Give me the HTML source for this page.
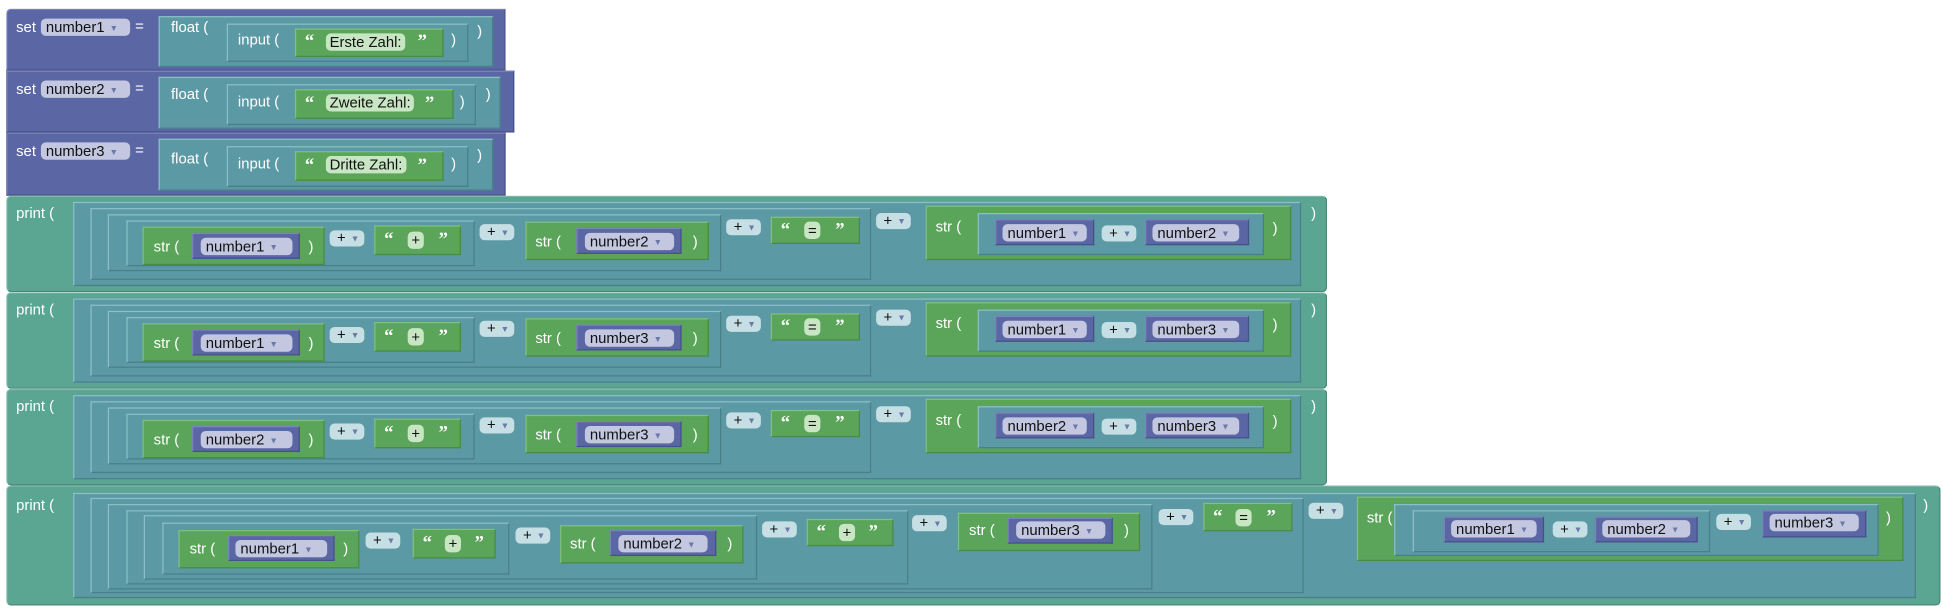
<!DOCTYPE html>
<html><head><meta charset="utf-8"><style>
html,body{margin:0;padding:0;background:#fff;width:1943px;height:613px;overflow:hidden}
#w{position:absolute;left:0;top:0;width:1568px;height:495px;transform:scale(1.2392,1.2384);transform-origin:0 0;font-family:"Liberation Sans",sans-serif}
.b{position:absolute;box-sizing:border-box;border:1px solid}
.set{background:#5b67a5;border-color:#7c86b8 #46508a #46508a #7c86b8}
.pr{background:#5ba593;border-color:#7fbaa9 #4a8676 #4a8676 #7fbaa9;border-radius:4px}
.tl{background:#5b99a5;border-color:#8cbfc8 #4a7f88 #4a7f88 #8cbfc8}
.gr{background:#5ba55b;border-color:#80c080 #478a47 #478a47 #80c080}
.vr{background:#5b67a5;border-color:#7c86b8 #46508a #46508a #7c86b8}
.row{position:absolute;left:0}
.t{position:absolute;color:#fff;font-size:12px;line-height:14px;white-space:nowrap}
.p{position:absolute;box-sizing:border-box;border-radius:4px;color:#111;font-size:12px;line-height:14px;height:14px;padding-left:4px;white-space:nowrap}
.vp{background:#c3c8e0}
.dp{background:#c6dfe4;width:28px;height:13px;line-height:13px;padding-left:6px}
.tp{background:#c8e6c3;padding:0 3px}
.ar{color:#6d7aa8;font-size:7px;margin-left:4px;vertical-align:1px}
.q{position:absolute;color:#fff;font-size:15px;font-weight:bold;line-height:14px;font-family:"Liberation Serif",serif}
</style></head><body><div id="w">

<div class="b set" style="left:5px;top:7px;width:403px;height:50px;border-radius:4px 0 0 0"></div>
<div class="t" style="left:13px;top:15px">set</div>
<div class="p vp" style="left:33px;top:15px;width:72px">number1<span class="ar">▼</span></div>
<div class="t" style="left:109px;top:14px">=</div>
<div class="b tl" style="left:128px;top:13px;width:270px;height:41px"></div>
<div class="t" style="left:138px;top:15px">float (</div>
<div class="b tl" style="left:183px;top:19px;width:195px;height:31px"></div>
<div class="t" style="left:192px;top:25px">input (</div>
<div class="b gr" style="left:238px;top:23px;width:120px;height:23px"></div>
<div class="q" style="left:246px;top:27px">“</div>
<div class="p tp" style="left:263px;top:27px">Erste Zahl:</div>
<div class="q" style="left:337px;top:27px">”</div>
<div class="t" style="left:364px;top:25px">)</div>
<div class="t" style="left:385px;top:18px">)</div>

<div class="b set" style="left:5px;top:57px;width:410px;height:50px"></div>
<div class="t" style="left:13px;top:65px">set</div>
<div class="p vp" style="left:33px;top:65px;width:72px">number2<span class="ar">▼</span></div>
<div class="t" style="left:109px;top:64px">=</div>
<div class="b tl" style="left:128px;top:62px;width:276px;height:42px"></div>
<div class="t" style="left:138px;top:69px">float (</div>
<div class="b tl" style="left:183px;top:68px;width:201px;height:33px"></div>
<div class="t" style="left:192px;top:75px">input (</div>
<div class="b gr" style="left:238px;top:72px;width:128px;height:24px"></div>
<div class="q" style="left:246px;top:77px">“</div>
<div class="p tp" style="left:263px;top:76px">Zweite Zahl:</div>
<div class="q" style="left:343px;top:77px">”</div>
<div class="t" style="left:371px;top:75px">)</div>
<div class="t" style="left:392px;top:69px">)</div>

<div class="b set" style="left:5px;top:107px;width:403px;height:51px"></div>
<div class="t" style="left:13px;top:115px">set</div>
<div class="p vp" style="left:33px;top:115px;width:72px">number3<span class="ar">▼</span></div>
<div class="t" style="left:109px;top:114px">=</div>
<div class="b tl" style="left:128px;top:112px;width:270px;height:42px"></div>
<div class="t" style="left:138px;top:121px">float (</div>
<div class="b tl" style="left:183px;top:118px;width:195px;height:33px"></div>
<div class="t" style="left:192px;top:125px">input (</div>
<div class="b gr" style="left:238px;top:122px;width:120px;height:24px"></div>
<div class="q" style="left:246px;top:127px">“</div>
<div class="p tp" style="left:263px;top:126px">Dritte Zahl:</div>
<div class="q" style="left:337px;top:127px">”</div>
<div class="t" style="left:364px;top:125px">)</div>
<div class="t" style="left:385px;top:118px">)</div>

<div class="row" style="top:158px">
<div class="b pr" style="left:5px;top:0;width:1066px;height:78px"></div>
<div class="t" style="left:13px;top:7px">print (</div>
<div class="b tl" style="left:59px;top:5px;width:991px;height:68px"></div>
<div class="b tl" style="left:73px;top:10px;width:630px;height:58px"></div>
<div class="b tl" style="left:87px;top:15px;width:495px;height:46px"></div>
<div class="b tl" style="left:102px;top:20px;width:281px;height:37px"></div>
<div class="b gr" style="left:115px;top:25px;width:147px;height:31px"></div>
<div class="t" style="left:124px;top:34px">str (</div>
<div class="b vr" style="left:155px;top:30px;width:87px;height:21px"></div>
<div class="p vp" style="left:162px;top:34px;width:74px">number1<span class="ar">▼</span></div>
<div class="t" style="left:249px;top:34px">)</div>
<div class="p dp" style="left:266px;top:28px">+<span class="ar">▼</span></div>
<div class="b gr" style="left:302px;top:24px;width:70px;height:24px"></div>
<div class="q" style="left:310px;top:29px">“</div>
<div class="p tp" style="left:329px;top:29px">+</div>
<div class="q" style="left:354px;top:29px">”</div>
<div class="p dp" style="left:387px;top:23px">+<span class="ar">▼</span></div>
<div class="b gr" style="left:424px;top:21px;width:148px;height:31px"></div>
<div class="t" style="left:432px;top:30px">str (</div>
<div class="b vr" style="left:465px;top:26px;width:85px;height:21px"></div>
<div class="p vp" style="left:472px;top:30px;width:72px">number2<span class="ar">▼</span></div>
<div class="t" style="left:559px;top:30px">)</div>
<div class="p dp" style="left:586px;top:19px">+<span class="ar">▼</span></div>
<div class="b gr" style="left:622px;top:17px;width:72px;height:22px"></div>
<div class="q" style="left:630px;top:21px">“</div>
<div class="p tp" style="left:649px;top:21px">=</div>
<div class="q" style="left:674px;top:21px">”</div>
<div class="p dp" style="left:707px;top:14px">+<span class="ar">▼</span></div>
<div class="b gr" style="left:747px;top:8px;width:295px;height:44px"></div>
<div class="t" style="left:755px;top:18px">str (</div>
<div class="b tl" style="left:789px;top:14px;width:231px;height:34px"></div>
<div class="b vr" style="left:803px;top:19px;width:80px;height:21px"></div>
<div class="p vp" style="left:809px;top:23px;width:68px">number1<span class="ar">▼</span></div>
<div class="p dp" style="left:889px;top:24px">+<span class="ar">▼</span></div>
<div class="b vr" style="left:924px;top:19px;width:84px;height:21px"></div>
<div class="p vp" style="left:930px;top:23px;width:70px">number2<span class="ar">▼</span></div>
<div class="t" style="left:1027px;top:19px">)</div>
<div class="t" style="left:1058px;top:7px">)</div>
</div>

<div class="row" style="top:236px">
<div class="b pr" style="left:5px;top:0;width:1066px;height:78px"></div>
<div class="t" style="left:13px;top:7px">print (</div>
<div class="b tl" style="left:59px;top:5px;width:991px;height:68px"></div>
<div class="b tl" style="left:73px;top:10px;width:630px;height:58px"></div>
<div class="b tl" style="left:87px;top:15px;width:495px;height:46px"></div>
<div class="b tl" style="left:102px;top:20px;width:281px;height:37px"></div>
<div class="b gr" style="left:115px;top:25px;width:147px;height:31px"></div>
<div class="t" style="left:124px;top:34px">str (</div>
<div class="b vr" style="left:155px;top:30px;width:87px;height:21px"></div>
<div class="p vp" style="left:162px;top:34px;width:74px">number1<span class="ar">▼</span></div>
<div class="t" style="left:249px;top:34px">)</div>
<div class="p dp" style="left:266px;top:28px">+<span class="ar">▼</span></div>
<div class="b gr" style="left:302px;top:24px;width:70px;height:24px"></div>
<div class="q" style="left:310px;top:29px">“</div>
<div class="p tp" style="left:329px;top:29px">+</div>
<div class="q" style="left:354px;top:29px">”</div>
<div class="p dp" style="left:387px;top:23px">+<span class="ar">▼</span></div>
<div class="b gr" style="left:424px;top:21px;width:148px;height:31px"></div>
<div class="t" style="left:432px;top:30px">str (</div>
<div class="b vr" style="left:465px;top:26px;width:85px;height:21px"></div>
<div class="p vp" style="left:472px;top:30px;width:72px">number3<span class="ar">▼</span></div>
<div class="t" style="left:559px;top:30px">)</div>
<div class="p dp" style="left:586px;top:19px">+<span class="ar">▼</span></div>
<div class="b gr" style="left:622px;top:17px;width:72px;height:22px"></div>
<div class="q" style="left:630px;top:21px">“</div>
<div class="p tp" style="left:649px;top:21px">=</div>
<div class="q" style="left:674px;top:21px">”</div>
<div class="p dp" style="left:707px;top:14px">+<span class="ar">▼</span></div>
<div class="b gr" style="left:747px;top:8px;width:295px;height:44px"></div>
<div class="t" style="left:755px;top:18px">str (</div>
<div class="b tl" style="left:789px;top:14px;width:231px;height:34px"></div>
<div class="b vr" style="left:803px;top:19px;width:80px;height:21px"></div>
<div class="p vp" style="left:809px;top:23px;width:68px">number1<span class="ar">▼</span></div>
<div class="p dp" style="left:889px;top:24px">+<span class="ar">▼</span></div>
<div class="b vr" style="left:924px;top:19px;width:84px;height:21px"></div>
<div class="p vp" style="left:930px;top:23px;width:70px">number3<span class="ar">▼</span></div>
<div class="t" style="left:1027px;top:19px">)</div>
<div class="t" style="left:1058px;top:7px">)</div>
</div>

<div class="row" style="top:314px">
<div class="b pr" style="left:5px;top:0;width:1066px;height:78px"></div>
<div class="t" style="left:13px;top:7px">print (</div>
<div class="b tl" style="left:59px;top:5px;width:991px;height:68px"></div>
<div class="b tl" style="left:73px;top:10px;width:630px;height:58px"></div>
<div class="b tl" style="left:87px;top:15px;width:495px;height:46px"></div>
<div class="b tl" style="left:102px;top:20px;width:281px;height:37px"></div>
<div class="b gr" style="left:115px;top:25px;width:147px;height:31px"></div>
<div class="t" style="left:124px;top:34px">str (</div>
<div class="b vr" style="left:155px;top:30px;width:87px;height:21px"></div>
<div class="p vp" style="left:162px;top:34px;width:74px">number2<span class="ar">▼</span></div>
<div class="t" style="left:249px;top:34px">)</div>
<div class="p dp" style="left:266px;top:28px">+<span class="ar">▼</span></div>
<div class="b gr" style="left:302px;top:24px;width:70px;height:24px"></div>
<div class="q" style="left:310px;top:29px">“</div>
<div class="p tp" style="left:329px;top:29px">+</div>
<div class="q" style="left:354px;top:29px">”</div>
<div class="p dp" style="left:387px;top:23px">+<span class="ar">▼</span></div>
<div class="b gr" style="left:424px;top:21px;width:148px;height:31px"></div>
<div class="t" style="left:432px;top:30px">str (</div>
<div class="b vr" style="left:465px;top:26px;width:85px;height:21px"></div>
<div class="p vp" style="left:472px;top:30px;width:72px">number3<span class="ar">▼</span></div>
<div class="t" style="left:559px;top:30px">)</div>
<div class="p dp" style="left:586px;top:19px">+<span class="ar">▼</span></div>
<div class="b gr" style="left:622px;top:17px;width:72px;height:22px"></div>
<div class="q" style="left:630px;top:21px">“</div>
<div class="p tp" style="left:649px;top:21px">=</div>
<div class="q" style="left:674px;top:21px">”</div>
<div class="p dp" style="left:707px;top:14px">+<span class="ar">▼</span></div>
<div class="b gr" style="left:747px;top:8px;width:295px;height:44px"></div>
<div class="t" style="left:755px;top:18px">str (</div>
<div class="b tl" style="left:789px;top:14px;width:231px;height:34px"></div>
<div class="b vr" style="left:803px;top:19px;width:80px;height:21px"></div>
<div class="p vp" style="left:809px;top:23px;width:68px">number2<span class="ar">▼</span></div>
<div class="p dp" style="left:889px;top:24px">+<span class="ar">▼</span></div>
<div class="b vr" style="left:924px;top:19px;width:84px;height:21px"></div>
<div class="p vp" style="left:930px;top:23px;width:70px">number3<span class="ar">▼</span></div>
<div class="t" style="left:1027px;top:19px">)</div>
<div class="t" style="left:1058px;top:7px">)</div>
</div>

<div class="row" style="top:392px">
<div class="b pr" style="left:5px;top:0;width:1561px;height:97px"></div>
<div class="t" style="left:13px;top:9px">print (</div>
<div class="b tl" style="left:59px;top:6px;width:1487px;height:85px"></div>
<div class="b tl" style="left:73px;top:10px;width:979px;height:77px"></div>
<div class="b tl" style="left:87px;top:15px;width:843px;height:69px"></div>
<div class="b tl" style="left:102px;top:20px;width:631px;height:60px"></div>
<div class="b tl" style="left:116px;top:24px;width:495px;height:52px"></div>
<div class="b tl" style="left:131px;top:30px;width:280px;height:42px"></div>
<div class="b gr" style="left:144px;top:36px;width:146px;height:31px"></div>
<div class="t" style="left:153px;top:44px">str (</div>
<div class="b vr" style="left:184px;top:40px;width:86px;height:21px"></div>
<div class="p vp" style="left:190px;top:44px;width:74px">number1<span class="ar">▼</span></div>
<div class="t" style="left:277px;top:44px">)</div>
<div class="p dp" style="left:295px;top:38px">+<span class="ar">▼</span></div>
<div class="b gr" style="left:333px;top:35px;width:67px;height:24px"></div>
<div class="q" style="left:341px;top:40px">“</div>
<div class="p tp" style="left:359px;top:40px">+</div>
<div class="q" style="left:383px;top:40px">”</div>
<div class="p dp" style="left:416px;top:34px">+<span class="ar">▼</span></div>
<div class="b gr" style="left:452px;top:32px;width:148px;height:31px"></div>
<div class="t" style="left:460px;top:40px">str (</div>
<div class="b vr" style="left:492px;top:36px;width:86px;height:21px"></div>
<div class="p vp" style="left:499px;top:40px;width:72px">number2<span class="ar">▼</span></div>
<div class="t" style="left:587px;top:40px">)</div>
<div class="p dp" style="left:615px;top:29px">+<span class="ar">▼</span></div>
<div class="b gr" style="left:651px;top:27px;width:70px;height:22px"></div>
<div class="q" style="left:659px;top:31px">“</div>
<div class="p tp" style="left:677px;top:31px">+</div>
<div class="q" style="left:701px;top:31px">”</div>
<div class="p dp" style="left:736px;top:24px">+<span class="ar">▼</span></div>
<div class="b gr" style="left:773px;top:22px;width:147px;height:31px"></div>
<div class="t" style="left:782px;top:29px">str (</div>
<div class="b vr" style="left:813px;top:26px;width:85px;height:21px"></div>
<div class="p vp" style="left:820px;top:29px;width:72px">number3<span class="ar">▼</span></div>
<div class="t" style="left:907px;top:29px">)</div>
<div class="p dp" style="left:935px;top:19px">+<span class="ar">▼</span></div>
<div class="b gr" style="left:971px;top:14px;width:72px;height:23px"></div>
<div class="q" style="left:979px;top:19px">“</div>
<div class="p tp" style="left:997px;top:19px">=</div>
<div class="q" style="left:1022px;top:19px">”</div>
<div class="p dp" style="left:1056px;top:14px">+<span class="ar">▼</span></div>
<div class="b gr" style="left:1095px;top:9px;width:441px;height:52px"></div>
<div class="t" style="left:1103px;top:19px">str (</div>
<div class="b tl" style="left:1125px;top:15px;width:391px;height:42px"></div>
<div class="b tl" style="left:1140px;top:20px;width:240px;height:34px"></div>
<div class="b vr" style="left:1165px;top:25px;width:81px;height:21px"></div>
<div class="p vp" style="left:1171px;top:28px;width:69px">number1<span class="ar">▼</span></div>
<div class="p dp" style="left:1253px;top:29px">+<span class="ar">▼</span></div>
<div class="b vr" style="left:1287px;top:25px;width:83px;height:21px"></div>
<div class="p vp" style="left:1293px;top:28px;width:71px">number2<span class="ar">▼</span></div>
<div class="p dp" style="left:1385px;top:23px">+<span class="ar">▼</span></div>
<div class="b vr" style="left:1422px;top:20px;width:84px;height:22px"></div>
<div class="p vp" style="left:1428px;top:23px;width:72px">number3<span class="ar">▼</span></div>
<div class="t" style="left:1522px;top:19px">)</div>
<div class="t" style="left:1552px;top:9px">)</div>
</div>

</div></body></html>
